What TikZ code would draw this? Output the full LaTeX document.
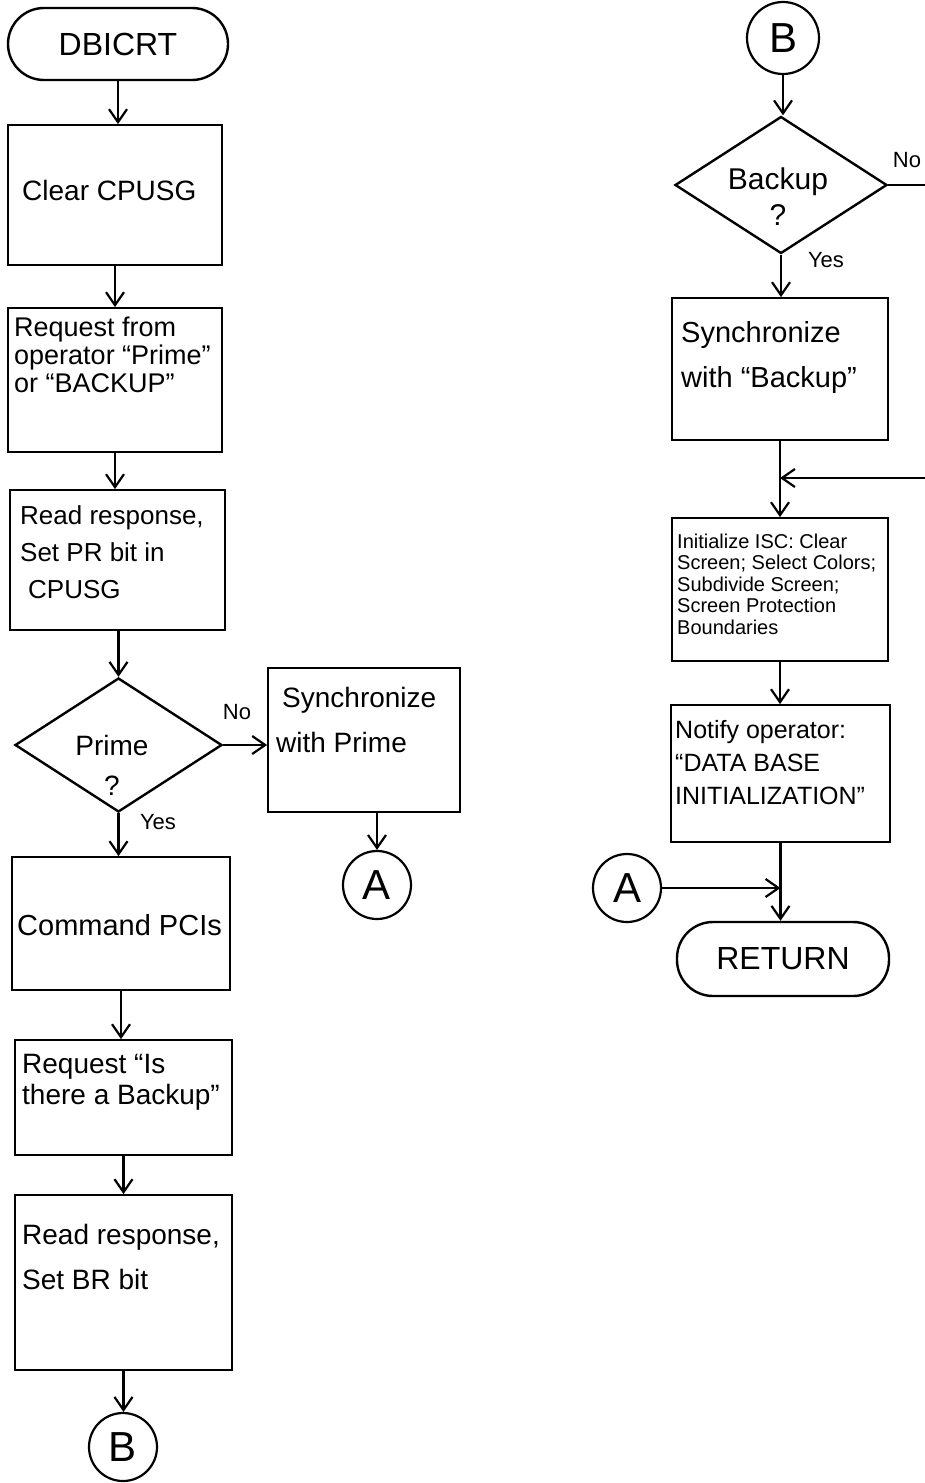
\documentclass[tikz,border=0pt]{standalone}
\usepackage{fontspec}
\setmainfont{Liberation Sans}
\usetikzlibrary{shapes.geometric,arrows.meta}
\begin{document}
\begin{tikzpicture}[x=1pt,y=-1pt,
  box/.style={draw, line width=1.8pt, inner sep=0pt},
  term/.style={draw, line width=2.4pt, rounded corners=36pt, inner sep=0pt, font=\fontsize{32}{34}\selectfont},
  decision/.style={draw, diamond, line width=2.4pt, inner sep=0pt},
  connector/.style={draw, circle, line width=2.2pt, inner sep=0pt, minimum size=68pt, font=\fontsize{42}{44}\selectfont},
  txt/.style={inner sep=0pt, align=left, anchor=west},
  dtxt/.style={inner sep=0pt, align=center},
  lbl/.style={inner sep=0pt, font=\fontsize{22}{24}\selectfont},
  flow/.style={line width=2.2pt, -{Straight Barb[length=13pt,width=18pt,line width=2.2pt]}},
  plain/.style={line width=2.2pt}
]
\fill[white] (0,0) rectangle (925,1483);
\useasboundingbox (0,0) rectangle (925,1483);

% ---- left column ----
\node[term, minimum width=220pt, minimum height=72pt] (start) at (118,44) {DBICRT};
\node[box, minimum width=214pt, minimum height=140pt] (clear) at (115,195) {};
\node[txt, font=\fontsize{28}{30}\selectfont] (clearT) at (22,190) {Clear CPUSG};
\node[box, minimum width=214pt, minimum height=144pt] (req1) at (115,380) {};
\node[txt, font=\fontsize{27}{28}\selectfont] (req1T) at (14,355) {Request from\\operator ``Prime''\\or ``BACKUP''};
\node[box, minimum width=215pt, minimum height=140pt] (read1) at (117.5,560) {};
\node[txt, font=\fontsize{26}{37}\selectfont] (read1T) at (20,552) {Read response,\\Set PR bit in\\\hspace*{8pt}CPUSG};
\node[decision, minimum width=207pt, minimum height=134pt] (prime) at (118.5,745) {};
\node[dtxt, font=\fontsize{28}{40}\selectfont] (primeT) at (112,765) {Prime\\?};
\node[box, minimum width=192pt, minimum height=144pt] (syncp) at (364,740) {};
\node[txt, font=\fontsize{28}{45}\selectfont] (syncpT) at (276,720) {\hspace*{6pt}Synchronize\\with Prime};
\node[connector] (a1) at (377,885) {A};
\node[box, minimum width=218pt, minimum height=133pt] (cmd) at (121,923.5) {};
\node[txt, font=\fontsize{29}{30}\selectfont] (cmdT) at (17,925) {Command PCIs};
\node[box, minimum width=217pt, minimum height=115pt] (req2) at (123.5,1097.5) {};
\node[txt, font=\fontsize{28}{31}\selectfont] (req2T) at (22,1082) {Request ``Is\\there a Backup''};
\node[box, minimum width=217pt, minimum height=175pt] (read2) at (123.5,1282.5) {};
\node[txt, font=\fontsize{28}{45}\selectfont] (read2T) at (22,1257) {Read response,\\Set BR bit};
\node[connector] (b1) at (123,1447) {B};

% ---- right column ----
\node[connector, minimum size=72pt] (b2) at (783,38) {B};
\node[decision, minimum width=212pt, minimum height=137pt] (backup) at (781,185) {};
\node[dtxt, font=\fontsize{30}{36}\selectfont] (backupT) at (778,197) {Backup\\?};
\node[box, minimum width=216pt, minimum height=142pt] (syncb) at (780,369) {};
\node[txt, font=\fontsize{29}{45}\selectfont] (syncbT) at (681,357) {Synchronize\\with ``Backup''};
\node[box, minimum width=216pt, minimum height=143pt] (init) at (780,589.5) {};
\node[txt, font=\fontsize{20}{21.5}\selectfont] (initT) at (677,584) {Initialize ISC: Clear\\Screen; Select Colors;\\Subdivide Screen;\\Screen Protection\\Boundaries};
\node[box, minimum width=219pt, minimum height=137pt] (notify) at (780.5,773.5) {};
\node[txt, font=\fontsize{25}{33}\selectfont] (notifyT) at (675,763) {Notify operator:\\``DATA BASE\\INITIALIZATION''};
\node[connector] (a2) at (627,888) {A};
\node[term, minimum width=212pt, minimum height=74pt] (ret) at (783,959) {RETURN};

\coordinate (noEnd) at (925,185);
\coordinate (loopIn) at (925,478);

% ---- branch labels ----
\node[lbl] (noP) at (237,712) {No};
\node[lbl] (yesP) at (158,822) {Yes};
\node[lbl] (noB) at (907,160) {No};
\node[lbl] (yesB) at (826,260) {Yes};

% ---- flow lines, left ----
\draw[flow] (start.south) -- (start.south |- clear.north);
\draw[flow] (clear.south) -- (clear.south |- req1.north);
\draw[flow] (req1.south) -- (req1.south |- read1.north);
\draw[flow] (read1.south -| prime.north) -- (prime.north);
\draw[flow] (prime.east) -- (prime.east -| syncp.west);
\draw[flow] (a1.north |- syncp.south) -- (a1.north);
\draw[flow] (prime.south) -- (prime.south |- cmd.north);
\draw[flow] (cmd.south) -- (cmd.south |- req2.north);
\draw[flow] (req2.south) -- (req2.south |- read2.north);
\draw[flow] (read2.south) -- (read2.south |- b1.north);

% ---- flow lines, right ----
\draw[flow] (b2.south) -- (b2.south |- backup.north);
\draw[plain] (backup.east) -- (backup.east -| noEnd);
\draw[flow] (backup.south) -- (backup.south |- syncb.north);
\draw[flow] (syncb.south) -- (syncb.south |- init.north);
\draw[flow] (loopIn) -- (loopIn -| syncb.south);
\draw[flow] (init.south) -- (init.south |- notify.north);
\draw[flow] (notify.south) -- (notify.south |- ret.north);
\draw[flow] (a2.east) -- (a2.east -| notify.south);
\end{tikzpicture}
\end{document}
